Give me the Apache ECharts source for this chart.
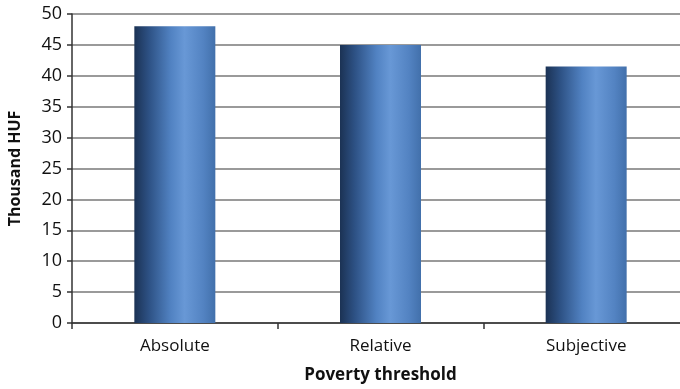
<!DOCTYPE html>
<html>
<head>
<meta charset="utf-8">
<script src="https://cdn.jsdelivr.net/npm/echarts@6/dist/echarts.min.js"></script>
<style>
  html, body { margin: 0; padding: 0; background: #fff; }
  #chart { width: 680px; height: 389px; }
</style>
</head>
<body>
<div id="chart"></div>
<script>
// Poverty threshold levels, thousand HUF
const categories = ['Absolute', 'Relative', 'Subjective'];
const values = [48, 45, 41.5];

const yMin = 0;
const yMax = 50;
const yStep = 5;

const fontFamily = '"Open Sans", "Noto Sans", sans-serif';

// Cylinder-like horizontal shading for the bars
const barFill = new echarts.graphic.LinearGradient(0, 0, 1, 0, [
  { offset: 0, color: '#1b3254' },
  { offset: 0.18, color: '#2d5184' },
  { offset: 0.45, color: '#5182c2' },
  { offset: 0.62, color: '#6898d6' },
  { offset: 0.85, color: '#5383c2' },
  { offset: 1, color: '#4270ab' }
]);

const chart = echarts.init(document.getElementById('chart'));
chart.setOption({
  animation: false,
  backgroundColor: '#ffffff',
  // plot area runs slightly past the right edge of the canvas
  grid: { left: 72, width: 617, top: 14, height: 309, containLabel: false, outerBoundsMode: 'none' },
  xAxis: {
    type: 'category',
    data: categories,
    name: 'Poverty threshold',
    nameLocation: 'middle',
    nameGap: 44,
    nameTextStyle: { fontFamily, fontSize: 17, fontWeight: 'bold', color: '#111' },
    axisLine: { lineStyle: { color: '#333', width: 1.5 } },
    axisTick: { show: true, length: 6, lineStyle: { color: '#333', width: 1.5 } },
    axisLabel: { fontFamily, fontSize: 17, fontWeight: 500, color: '#111', margin: 15 }
  },
  yAxis: {
    type: 'value',
    min: yMin,
    max: yMax,
    interval: yStep,
    name: 'Thousand HUF',
    nameLocation: 'middle',
    nameGap: 49,
    nameRotate: 90,
    nameTextStyle: { fontFamily, fontSize: 16, fontWeight: 'bold', color: '#111' },
    axisLine: { show: true, lineStyle: { color: '#333', width: 1.5 } },
    axisTick: { show: true, inside: false, length: 5, lineStyle: { color: '#333', width: 1.5 } },
    axisLabel: { fontFamily, fontSize: 18, fontWeight: 500, color: '#111', margin: 10 },
    splitLine: { lineStyle: { color: '#9a9a9a', width: 2 } }
  },
  series: [{
    type: 'bar',
    data: values,
    barWidth: 81,
    itemStyle: { color: barFill },
    z: 3
  }]
});
</script>
</body>
</html>
